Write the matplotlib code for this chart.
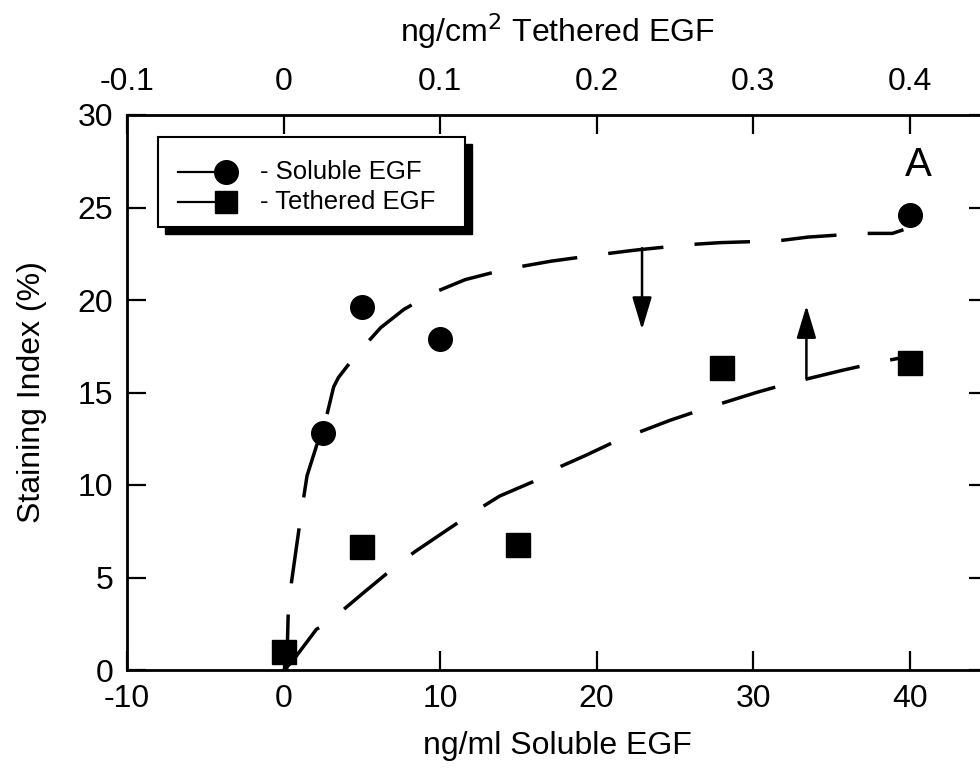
import matplotlib
matplotlib.use("Agg")
import matplotlib.pyplot as plt
from matplotlib.patches import Rectangle
from matplotlib.lines import Line2D

plt.rcParams['font.family'] = ['Liberation Sans', 'DejaVu Sans']
plt.rcParams['axes.unicode_minus'] = False

# measured points
sol_x = [2.5, 5, 10, 40]
sol_y = [12.8, 19.6, 17.9, 24.6]
teth_x = [0, 5, 15, 28, 40]
teth_y = [1.0, 6.65, 6.75, 16.3, 16.6]

# hand drawn fit curves
sol_fit_x = [0.2, 0.3, 0.5, 1.0, 1.3, 1.5, 2.4, 2.8, 3.2, 3.5, 4.5, 6.2, 7.7, 9.6,
             11.6, 13.9, 15.1, 17.1, 20.6, 22.5, 26.0, 27.9, 31.6, 33.5, 37.0, 38.9, 39.6]
sol_fit_y = [0.0, 3.1, 4.7, 7.7, 9.4, 10.5, 12.9, 13.9, 15.3, 15.8, 16.9, 18.5, 19.5, 20.4,
             21.1, 21.6, 21.8, 22.1, 22.5, 22.7, 23.0, 23.1, 23.2, 23.4, 23.6, 23.6, 23.8]
teth_fit_x = [0.0, 0.5, 2.1, 2.9, 5.0, 7.0, 8.4, 10.5, 12.1, 13.8, 16.0, 17.7, 19.3,
              21.3, 24.7, 26.8, 30.2, 32.3, 35.7, 37.8, 39.6]
teth_fit_y = [0.0, 0.4, 2.2, 2.6, 4.1, 5.5, 6.4, 7.6, 8.5, 9.4, 10.2, 11.0, 11.6,
              12.4, 13.5, 14.1, 15.0, 15.5, 16.2, 16.6, 16.9]

# arrows (x, start y, end y)
arrow_down = (22.9, 22.8, 18.4)
arrow_up = (33.4, 15.8, 19.7)

bottom_ticks = [-10, 0, 10, 20, 30, 40]
top_ticks = [-0.1, 0, 0.1, 0.2, 0.3, 0.4]
top_labels = ['-0.1', '0', '0.1', '0.2', '0.3', '0.4']
y_ticks = [0, 5, 10, 15, 20, 25, 30]

fig = plt.figure(figsize=(9.8, 7.7), dpi=100)
W, H = 980.0, 770.0
ax = fig.add_axes([127 / W, 1 - 670 / H, (988 - 127) / W, (670 - 115) / H])

ax.plot(sol_fit_x, sol_fit_y, color='k', lw=2.5, linestyle=(0, (16, 9)))
ax.plot(teth_fit_x, teth_fit_y, color='k', lw=2.5, linestyle=(0, (16, 9)))
ax.plot(sol_x, sol_y, 'o', color='k', ms=17, zorder=3)
ax.plot(teth_x, teth_y, 's', color='k', ms=17, zorder=3)

for ax_x, y0, y1 in [arrow_down, arrow_up]:
    ax.annotate('', xy=(ax_x, y1), xytext=(ax_x, y0),
                arrowprops=dict(arrowstyle='-|>,head_length=1.0,head_width=0.3',
                                color='k', lw=1.8, mutation_scale=20, shrinkA=0, shrinkB=0))

ax.set_xlim(-10, 45)
ax.set_ylim(0, 30)
ax.set_xticks(bottom_ticks)
ax.set_yticks(y_ticks)
ax.tick_params(direction='in', length=14, width=1.6, labelsize=23, pad=10,
               right=True, top=False)
for s in ax.spines.values():
    s.set_linewidth(2.0)
ax.set_xlabel('ng/ml Soluble EGF', fontsize=23, labelpad=12)
ax.set_ylabel('Staining Index (%)', fontsize=23, labelpad=22)

ax2 = ax.twiny()
ax2.set_xlim(-0.1, 0.45)
ax2.set_xticks(top_ticks)
ax2.set_xticklabels(top_labels)
ax2.tick_params(direction='in', length=14, width=1.6, labelsize=23, pad=13)
ax2.set_xlabel('ng/cm$^2$ Tethered EGF', fontsize=23, labelpad=18)

ax.text(918 / W, 1 - 165 / H, 'A', transform=fig.transFigure, fontsize=29,
        ha='center', va='center')

# legend box with a solid drop shadow
ax.add_artist(Rectangle((165 / W, 1 - 234 / H), 307 / W, 90 / H, transform=fig.transFigure,
                        facecolor='k', edgecolor='k', zorder=5, clip_on=False))
ax.add_artist(Rectangle((158 / W, 1 - 227 / H), 307 / W, 90 / H, transform=fig.transFigure,
                        facecolor='white', edgecolor='k', lw=1.5, zorder=6, clip_on=False))
for py, mk, label in [(172, 'o', '- Soluble EGF'), (202, 's', '- Tethered EGF')]:
    yy = 1 - py / H
    fig.add_artist(Line2D([178 / W, 226 / W], [yy, yy], color='k', lw=1.6, zorder=7))
    fig.add_artist(Line2D([226 / W], [yy], marker=mk, color='k', ms=17 if mk == 'o' else 16,
                          zorder=7))
    fig.text(260 / W, yy, label, fontsize=18.5, va='center', ha='left', zorder=8)

fig.savefig('out.png', dpi=100)
